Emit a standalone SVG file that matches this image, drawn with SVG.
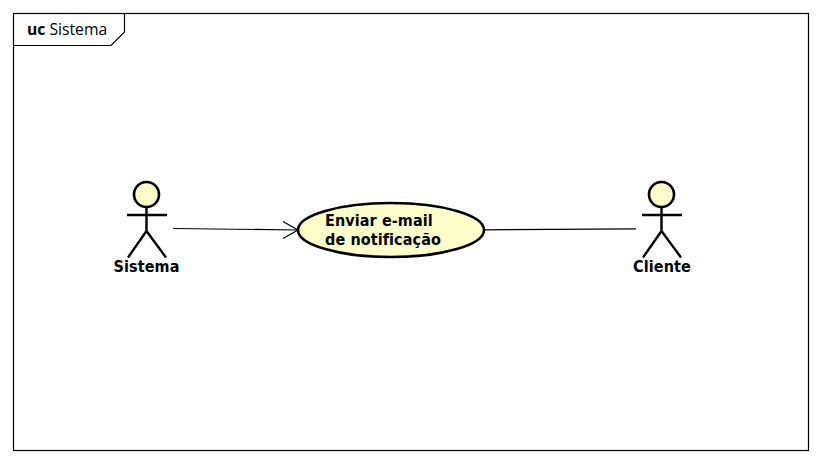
<svg xmlns="http://www.w3.org/2000/svg" width="822" height="464" viewBox="0 0 822 464">
<style>
.f{fill:none;stroke:#000;stroke-width:1.2}
.a{fill:none;stroke:#000;stroke-width:2.4}
.h{fill:#ffffcc;stroke:#000;stroke-width:2.6}
.t{font-family:"DejaVu Sans Condensed","DejaVu Sans","Liberation Sans",sans-serif;font-weight:bold;font-size:16px;fill:#000;letter-spacing:0.1px}
.c{fill:none;stroke:#000;stroke-width:1.2}
</style>
<rect width="822" height="464" fill="#fff"/>
<g id="frame">
<rect class="f" x="13.5" y="13.500" width="795" height="437"/>
<path class="f" d="M13.5 45.500H111L124.500 32V13.500"/>
<text x="27" y="35" font-family="'Open Sans','DejaVu Sans',sans-serif" font-size="15.7" fill="#000"><tspan font-weight="bold">uc</tspan> Sistema</text>
</g>
<g id="connectors">
<path class="c" d="M173 228.500L298 230"/>
<path class="c" d="M283 221.500L298 230L283 238.500"/>
<path class="c" d="M485 229.800L636 228.800"/>
</g>
<g id="actor-sistema">
<circle class="h" cx="146.500" cy="194.500" r="12.500"/>
<path class="a" d="M146.500 207V231M127 215H167M146.500 231L128 257.500M146.500 231L166 257.500"/>
<text class="t" x="146.500" y="272" text-anchor="middle">Sistema</text>
</g>
<g id="usecase-enviar">
<ellipse cx="391" cy="230" rx="93" ry="27" fill="#ffffcc" stroke="#000" stroke-width="2.600"/>
<text class="t" x="325" y="226">Enviar e-mail</text>
<text class="t" x="325" y="245">de notificação</text>
</g>
<g id="actor-cliente">
<circle class="h" cx="661.500" cy="194.500" r="12.500"/>
<path class="a" d="M661.500 207V231M642 215H682M661.500 231L643 257.500M661.500 231L681 257.500"/>
<text class="t" x="662" y="272" text-anchor="middle">Cliente</text>
</g>
</svg>
